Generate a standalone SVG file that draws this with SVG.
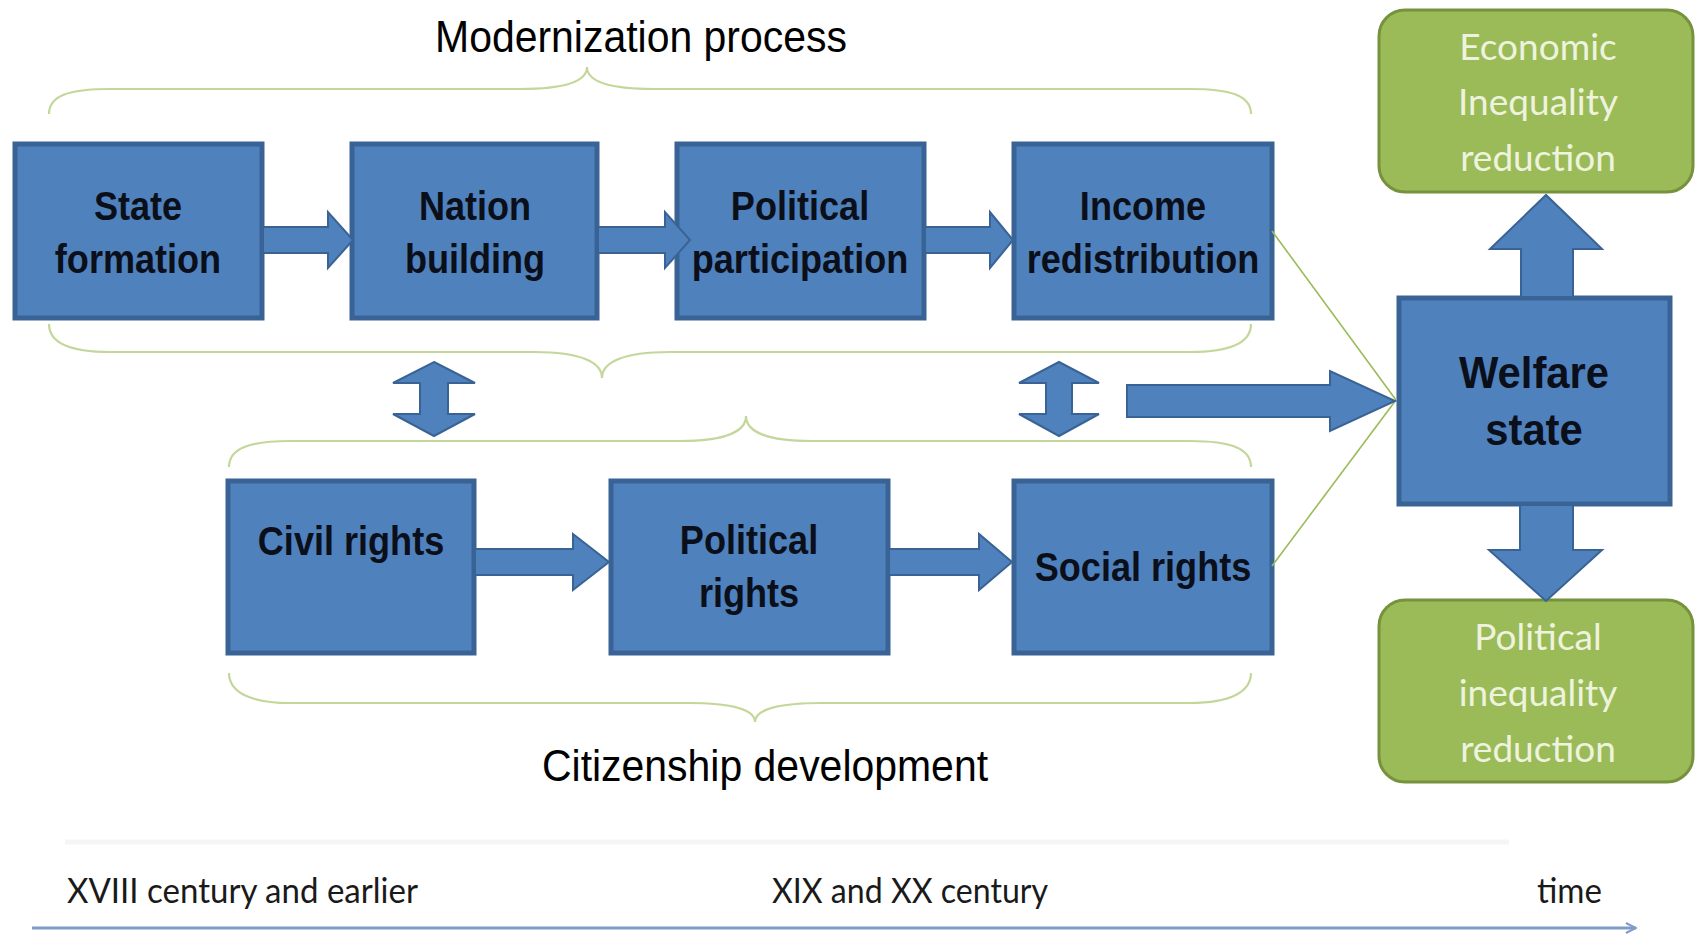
<svg xmlns="http://www.w3.org/2000/svg" width="1696" height="939" viewBox="0 0 1696 939">
  <defs>
    <style>
      .box { fill: #4F81BD; stroke: #3A6395; stroke-width: 5; }
      .green { fill: #9BBB59; stroke: #76923C; stroke-width: 3; }
      .arrow { fill: #4F81BD; stroke: #3A6395; stroke-width: 2; stroke-linejoin: miter; }
      .brace { fill: none; stroke: #C4D79B; stroke-width: 2.2; }
      .link { stroke: #9BBB59; stroke-width: 1.6; fill: none; }
      .lbl { font-family: "Liberation Sans", Arial, sans-serif; font-weight: bold; font-size: 41px; fill: #0B0F1A; text-anchor: middle; }
      .glbl { font-family: Lato, "Liberation Sans", sans-serif; font-size: 37px; fill: #EEF3DE; text-anchor: middle; }
      .head { font-family: "Liberation Sans", Arial, sans-serif; font-size: 45px; fill: #000; text-anchor: middle; }
      .time { font-family: Lato, "Liberation Sans", sans-serif; font-size: 34px; fill: #1A1A1A; }
    </style>
    <marker id="chev" viewBox="0 0 12 12" refX="11" refY="6" markerWidth="12" markerHeight="12" markerUnits="userSpaceOnUse" orient="auto">
      <path d="M1,1 L11,6 L1,11" fill="none" stroke="#7F9ACB" stroke-width="2"/>
    </marker>
  </defs>

  <rect width="1696" height="939" fill="#FFFFFF"/>

  <!-- group headings (narrowed horizontally) -->
  <text class="head" transform="translate(641,0) scale(0.91,1)" x="0" y="52">Modernization process</text>
  <text class="head" transform="translate(765,0) scale(0.91,1)" x="0" y="781">Citizenship development</text>

  <!-- curly braces -->
  <g id="braces">
    <path class="brace" d="M49,114 C49,96 68,89 110,89 L520,89 C565,89 587,82 587,67 C587,82 609,89 654,89 L1190,89 C1232,89 1251,96 1251,114"/>
    <path class="brace" d="M49,324 C49,342 68,352 110,352 L535,352 C580,352 602,362 602,378 C602,362 624,352 669,352 L1190,352 C1232,352 1251,342 1251,324"/>
    <path class="brace" d="M229,467 C229,449 248,441 290,441 L680,441 C724,441 746,432 746,416 C746,432 768,441 812,441 L1190,441 C1232,441 1251,449 1251,467"/>
    <path class="brace" d="M229,673 C229,691 248,703 290,703 L688,703 C733,703 755,710 755,722 C755,710 777,703 822,703 L1190,703 C1232,703 1251,691 1251,673"/>
  </g>

  <!-- process steps -->
  <g id="state-formation">
    <rect class="box" x="15" y="144" width="247" height="174"/>
    <text class="lbl" transform="translate(138,0) scale(0.88,1)"><tspan x="0" y="220">State</tspan><tspan x="0" y="273">formation</tspan></text>
  </g>
  <g id="nation-building">
    <rect class="box" x="352" y="144" width="245" height="174"/>
    <text class="lbl" transform="translate(475,0) scale(0.88,1)"><tspan x="0" y="220">Nation</tspan><tspan x="0" y="273">building</tspan></text>
  </g>
  <g id="political-participation">
    <rect class="box" x="677" y="144" width="247" height="174"/>
    <text class="lbl" transform="translate(800,0) scale(0.88,1)"><tspan x="0" y="220">Political</tspan><tspan x="0" y="273">participation</tspan></text>
  </g>
  <g id="income-redistribution">
    <rect class="box" x="1014" y="144" width="258" height="174"/>
    <text class="lbl" transform="translate(1143,0) scale(0.88,1)"><tspan x="0" y="220">Income</tspan><tspan x="0" y="273">redistribution</tspan></text>
  </g>
  <g id="civil-rights">
    <rect class="box" x="228" y="481" width="246" height="172"/>
    <text class="lbl" transform="translate(351,0) scale(0.88,1)" x="0" y="555">Civil rights</text>
  </g>
  <g id="political-rights">
    <rect class="box" x="611" y="481" width="277" height="172"/>
    <text class="lbl" transform="translate(749,0) scale(0.88,1)"><tspan x="0" y="554">Political</tspan><tspan x="0" y="607">rights</tspan></text>
  </g>
  <g id="social-rights">
    <rect class="box" x="1014" y="481" width="258" height="172"/>
    <text class="lbl" transform="translate(1143,0) scale(0.88,1)" x="0" y="581">Social rights</text>
  </g>
  <g id="welfare-state">
    <rect class="box" x="1399" y="298" width="271" height="206"/>
    <text class="lbl" style="font-size:44px" transform="translate(1534,0) scale(0.95,1)"><tspan x="0" y="388">Welfare</tspan><tspan x="0" y="445">state</tspan></text>
  </g>
  <g id="economic-inequality-reduction">
    <rect class="green" x="1379" y="10" width="314" height="182" rx="26"/>
    <text class="glbl"><tspan x="1538" y="60">Economic</tspan><tspan x="1538" y="115">Inequality</tspan><tspan x="1538" y="171">reduction</tspan></text>
  </g>
  <g id="political-inequality-reduction">
    <rect class="green" x="1379" y="600" width="314" height="182" rx="26"/>
    <text class="glbl"><tspan x="1538" y="650">Political</tspan><tspan x="1538" y="706">inequality</tspan><tspan x="1538" y="762">reduction</tspan></text>
  </g>

  <!-- connectors -->
  <g id="connectors">
    <line class="link" x1="1272" y1="231" x2="1396" y2="400"/>
    <line class="link" x1="1272" y1="566" x2="1396" y2="400"/>
    <polygon class="arrow" points="263,227 328,227 328,212 353,240 328,268 328,253 263,253"/>
    <polygon class="arrow" points="598,227 665,227 665,212 690,240 665,268 665,253 598,253"/>
    <polygon class="arrow" points="925,227 990,227 990,212 1013,240 990,268 990,253 925,253"/>
    <polygon class="arrow" points="475,549 573,549 573,534 609,562 573,590 573,575 475,575"/>
    <polygon class="arrow" points="889,549 979,549 979,534 1012,562 979,590 979,575 889,575"/>
    <polygon class="arrow" points="1127,385 1330,385 1330,371 1395,401 1330,431 1330,417 1127,417"/>
    <polygon class="arrow" points="1521,297 1521,249 1490,249 1546,195 1602,249 1573,249 1573,297"/>
    <polygon class="arrow" points="1520,505 1520,550 1489,550 1546,601 1602,550 1573,550 1573,505"/>
    <polygon class="arrow" points="434,362 475,383 448,383 448,414 475,414 434,436 393,414 420,414 420,383 393,383"/>
    <polygon class="arrow" points="1059,362 1099,383 1072,383 1072,414 1099,414 1059,436 1019,414 1046,414 1046,383 1019,383"/>
  </g>

  <!-- time axis -->
  <g id="timeline">
    <line x1="65" y1="842" x2="1509" y2="842" stroke="#F5F5F5" stroke-width="5"/>
    <line x1="32" y1="928" x2="1636" y2="928" stroke="#7F9ACB" stroke-width="3" marker-end="url(#chev)"/>
    <text class="time" x="67" y="903" textLength="351" lengthAdjust="spacingAndGlyphs">XVIII century and earlier</text>
    <text class="time" x="772" y="903" textLength="276" lengthAdjust="spacingAndGlyphs">XIX and XX century</text>
    <text class="time" x="1537" y="903" textLength="65" lengthAdjust="spacingAndGlyphs">time</text>
  </g>
</svg>
